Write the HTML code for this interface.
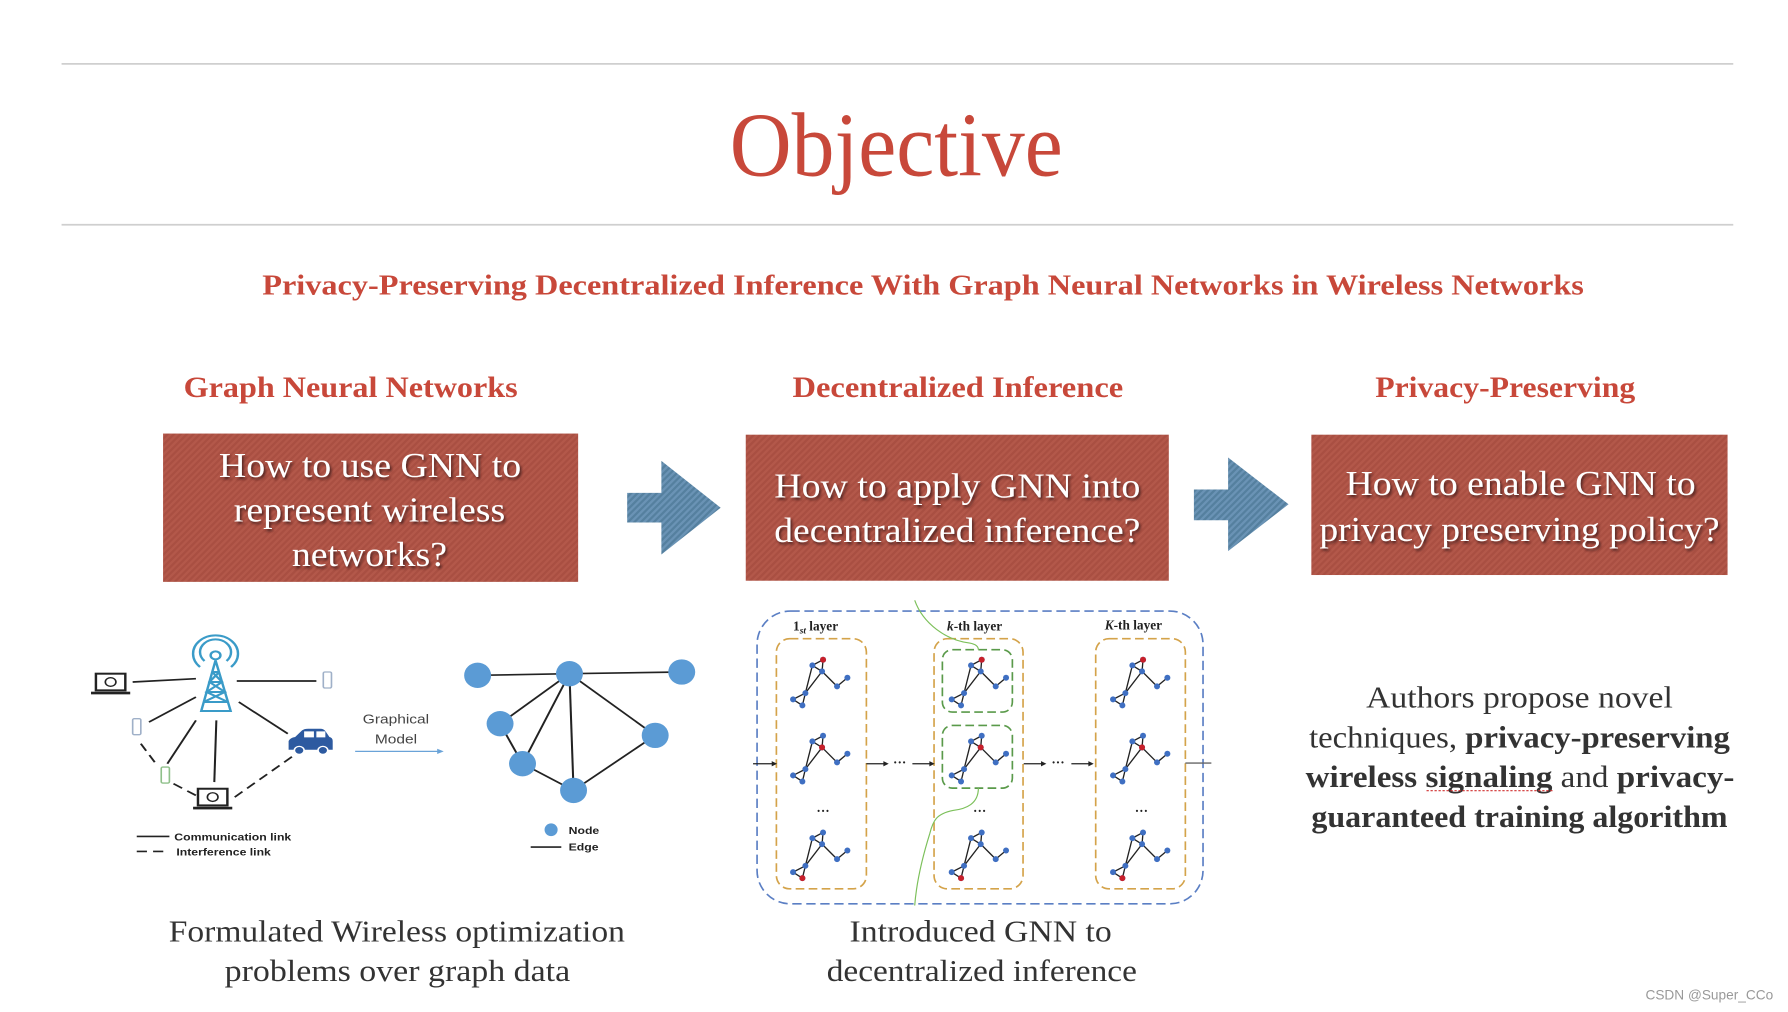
<!DOCTYPE html>
<html><head><meta charset="utf-8">
<style>
html,body{margin:0;padding:0;background:#fff;width:1788px;height:1012px;overflow:hidden}
svg{display:block}
</style></head>
<body>
<svg width="1788" height="1012" viewBox="0 0 1568 887" preserveAspectRatio="none" xmlns="http://www.w3.org/2000/svg">
<defs>
<pattern id="tex" width="4" height="4" patternUnits="userSpaceOnUse" patternTransform="rotate(45)">
<rect width="4" height="4" fill="#b3584a"/>
<rect width="2" height="4" fill="#a94f42"/>
</pattern>
<pattern id="btex" width="4" height="4" patternUnits="userSpaceOnUse" patternTransform="rotate(45)">
<rect width="4" height="4" fill="#6a93b5"/>
<rect width="2" height="4" fill="#55809f"/>
</pattern>
<filter id="sh" x="-10%" y="-10%" width="120%" height="130%">
<feDropShadow dx="1.5" dy="2" stdDeviation="1.2" flood-color="#3a1a14" flood-opacity="0.8"/>
</filter>
<g id="mg" stroke="#222" stroke-width="4" fill="#3f6fc2">
<line x1="178" y1="195" x2="210" y2="178"/>
<line x1="178" y1="195" x2="207" y2="213"/>
<line x1="210" y1="178" x2="207" y2="213"/>
<line x1="207" y1="213" x2="252" y2="258"/>
<line x1="252" y1="258" x2="283" y2="232"/>
<line x1="178" y1="195" x2="157" y2="278"/>
<line x1="207" y1="213" x2="157" y2="278"/>
<line x1="157" y1="278" x2="120" y2="297"/>
<line x1="157" y1="278" x2="148" y2="315"/>
<line x1="120" y1="297" x2="148" y2="315"/>
<g stroke="none">
<circle cx="178" cy="195" r="9"/><circle cx="210" cy="178" r="9"/><circle cx="207" cy="213" r="9"/>
<circle cx="252" cy="258" r="9"/><circle cx="283" cy="232" r="9"/><circle cx="157" cy="278" r="9"/>
<circle cx="120" cy="297" r="9"/><circle cx="148" cy="315" r="9"/>
</g>
</g>
</defs>

<line x1="54" y1="56" x2="1520" y2="56" stroke="#cfcfcf" stroke-width="1.5"/>
<line x1="54" y1="197" x2="1520" y2="197" stroke="#cfcfcf" stroke-width="1.5"/>

<g font-family="Liberation Serif, serif">
<text x="640" y="154" font-size="80" fill="#c8483a" textLength="292" lengthAdjust="spacingAndGlyphs">Objective</text>
<text x="230" y="258" font-size="25" font-weight="bold" fill="#c8483a" textLength="1159" lengthAdjust="spacingAndGlyphs">Privacy-Preserving Decentralized Inference With Graph Neural Networks in Wireless Networks</text>
<text x="161" y="348" font-size="26" font-weight="bold" fill="#c8483a" textLength="293" lengthAdjust="spacingAndGlyphs">Graph Neural Networks</text>
<text x="695" y="348" font-size="26" font-weight="bold" fill="#c8483a" textLength="290" lengthAdjust="spacingAndGlyphs">Decentralized Inference</text>
<text x="1206" y="348" font-size="26" font-weight="bold" fill="#c8483a" textLength="228" lengthAdjust="spacingAndGlyphs">Privacy-Preserving</text>

<rect x="143" y="380" width="364" height="130" fill="url(#tex)"/>
<rect x="654" y="381" width="371" height="128" fill="url(#tex)"/>
<rect x="1150" y="381" width="365" height="123" fill="url(#tex)"/>

<g fill="#fff" font-size="31" filter="url(#sh)">
<text x="192" y="418" textLength="265" lengthAdjust="spacingAndGlyphs">How to use GNN to</text>
<text x="205" y="457" textLength="238" lengthAdjust="spacingAndGlyphs">represent wireless</text>
<text x="256" y="496" textLength="136" lengthAdjust="spacingAndGlyphs">networks?</text>
<text x="679" y="436" textLength="321" lengthAdjust="spacingAndGlyphs">How to apply GNN into</text>
<text x="679" y="475" textLength="321" lengthAdjust="spacingAndGlyphs">decentralized inference?</text>
<text x="1180" y="434" textLength="307" lengthAdjust="spacingAndGlyphs">How to enable GNN to</text>
<text x="1157" y="474" textLength="351" lengthAdjust="spacingAndGlyphs">privacy preserving policy?</text>
</g>

<polygon points="550,432 580,432 580,404 632,445 580,486 580,458 550,458" fill="url(#btex)"/>
<polygon points="1047,429 1077,429 1077,401 1130,442 1077,483 1077,456 1047,456" fill="url(#btex)"/>

<g fill="#333" font-size="27">
<text x="148" y="825" textLength="400" lengthAdjust="spacingAndGlyphs">Formulated Wireless optimization</text>
<text x="197" y="860" textLength="303" lengthAdjust="spacingAndGlyphs">problems over graph data</text>
<text x="745" y="825" textLength="230" lengthAdjust="spacingAndGlyphs">Introduced GNN to</text>
<text x="725" y="860" textLength="272" lengthAdjust="spacingAndGlyphs">decentralized inference</text>
<text x="1198" y="620" textLength="269" lengthAdjust="spacingAndGlyphs">Authors propose novel</text>
<text x="1148" y="655" textLength="369" lengthAdjust="spacingAndGlyphs">techniques, <tspan font-weight="bold">privacy-preserving</tspan></text>
<text x="1145" y="690" textLength="376" lengthAdjust="spacingAndGlyphs"><tspan font-weight="bold">wireless signaling</tspan> and <tspan font-weight="bold">privacy-</tspan></text>
<text x="1150" y="725" font-weight="bold" textLength="365" lengthAdjust="spacingAndGlyphs">guaranteed training algorithm</text>
</g>
</g>
<line x1="1251" y1="693" x2="1363" y2="693" stroke="#d03030" stroke-width="1" stroke-dasharray="2 1.5"/>
<text x="1443" y="876" font-family="Liberation Sans, sans-serif" font-size="12" fill="#999" textLength="112" lengthAdjust="spacingAndGlyphs">CSDN @Super_CCo</text>

<!-- Left diagram -->
<g transform="translate(69.8,543.7) scale(0.358,0.2923)" font-family="Liberation Sans, sans-serif">
<g stroke="#222" stroke-width="5" fill="none">
<line x1="130" y1="185" x2="285" y2="175"/>
<line x1="385" y1="182" x2="580" y2="182"/>
<line x1="170" y1="305" x2="285" y2="230"/>
<line x1="215" y1="430" x2="285" y2="300"/>
<line x1="335" y1="300" x2="330" y2="485"/>
<line x1="390" y1="245" x2="510" y2="340"/>
<g stroke-dasharray="25 15">
<line x1="150" y1="370" x2="190" y2="435"/>
<line x1="230" y1="490" x2="285" y2="525"/>
<line x1="380" y1="530" x2="525" y2="405"/>
</g>
</g>
<g stroke="#3a9bc8" stroke-width="6" fill="none">
<circle cx="333" cy="105" r="12"/>
<path d="M306,122 A38,38 0 1 1 360,122"/>
<path d="M295,140 A55,55 0 1 1 371,140"/>
<path d="M333,120 L298,272 L370,272 Z"/>
<path d="M325,155 L342,155 M318,185 L349,185 M311,215 L356,215 M304,245 L363,245"/>
<path d="M325,155 L349,185 L311,215 L363,245 M342,155 L318,185 L356,215 L304,245"/>
</g>
<g stroke="#222" stroke-width="6" fill="#fff">
<rect x="40" y="160" width="72" height="50"/>
<rect x="290" y="505" width="72" height="50"/>
</g>
<rect x="28" y="214" width="96" height="8" fill="#222"/>
<rect x="278" y="559" width="96" height="8" fill="#222"/>
<circle cx="76" cy="185" r="13" fill="none" stroke="#222" stroke-width="4"/>
<circle cx="326" cy="530" r="13" fill="none" stroke="#222" stroke-width="4"/>
<rect x="597" y="155" width="20" height="48" rx="4" fill="none" stroke="#9fb0c8" stroke-width="4"/>
<rect x="130" y="295" width="20" height="48" rx="4" fill="none" stroke="#9fb0c8" stroke-width="4"/>
<rect x="200" y="440" width="20" height="48" rx="4" fill="none" stroke="#8fc08a" stroke-width="4"/>
<path d="M512,388 L512,362 Q516,352 528,350 L545,330 Q550,325 560,325 L590,325 Q598,325 602,332 L612,350 Q620,352 620,362 L620,388 Z" fill="#2d5aa0"/>
<rect x="550" y="333" width="24" height="18" fill="#fff"/>
<rect x="580" y="333" width="22" height="18" fill="#fff"/>
<circle cx="538" cy="390" r="12" fill="#2d5aa0" stroke="#fff" stroke-width="4"/>
<circle cx="596" cy="390" r="12" fill="#2d5aa0" stroke="#fff" stroke-width="4"/>
<text x="775" y="310" font-size="38" fill="#444" text-anchor="middle">Graphical</text>
<text x="775" y="370" font-size="38" fill="#444" text-anchor="middle">Model</text>
<line x1="675" y1="393" x2="880" y2="393" stroke="#6aa3d8" stroke-width="4"/>
<polygon points="892,393 876,385 876,401" fill="#6aa3d8"/>
<g stroke="#222" stroke-width="5">
<line x1="975" y1="165" x2="1200" y2="160"/>
<line x1="1200" y1="160" x2="1475" y2="155"/>
<line x1="1200" y1="160" x2="1030" y2="310"/>
<line x1="1200" y1="160" x2="1410" y2="345"/>
<line x1="1200" y1="160" x2="1085" y2="430"/>
<line x1="1200" y1="160" x2="1210" y2="510"/>
<line x1="1030" y1="310" x2="1085" y2="430"/>
<line x1="1085" y1="430" x2="1210" y2="510"/>
<line x1="1210" y1="510" x2="1410" y2="345"/>
</g>
<g fill="#5b9bd5">
<ellipse cx="975" cy="165" rx="33" ry="38"/><ellipse cx="1200" cy="160" rx="33" ry="38"/><ellipse cx="1475" cy="155" rx="33" ry="38"/>
<ellipse cx="1030" cy="310" rx="33" ry="38"/><ellipse cx="1410" cy="345" rx="33" ry="38"/><ellipse cx="1085" cy="430" rx="33" ry="38"/>
<ellipse cx="1210" cy="510" rx="33" ry="38"/>
<ellipse cx="1155" cy="628" rx="16" ry="19"/>
</g>
<g font-size="30" font-weight="bold" fill="#222">
<line x1="140" y1="648" x2="220" y2="648" stroke="#222" stroke-width="5"/>
<text x="232" y="660">Communication link</text>
<line x1="140" y1="693" x2="220" y2="693" stroke="#222" stroke-width="5" stroke-dasharray="25 15"/>
<text x="237" y="705">Interference link</text>
<text x="1198" y="640">Node</text>
<line x1="1105" y1="680" x2="1180" y2="680" stroke="#222" stroke-width="5"/>
<text x="1198" y="690">Edge</text>
</g>
</g>

<!-- Middle panel -->
<g transform="translate(660.4,526.2) scale(0.2923)">
<rect x="12" y="32" width="1338" height="878" rx="100" fill="none" stroke="#5b7fc4" stroke-width="5" stroke-dasharray="28 14"/>
<g fill="none" stroke="#d4a34a" stroke-width="5" stroke-dasharray="26 13">
<rect x="70" y="115" width="270" height="750" rx="40"/>
<rect x="543" y="115" width="267" height="750" rx="40"/>
<rect x="1028" y="115" width="269" height="750" rx="40"/>
</g>
<g fill="none" stroke="#5a9a4a" stroke-width="5" stroke-dasharray="26 13">
<rect x="568" y="148" width="210" height="187" rx="30"/>
<rect x="568" y="375" width="210" height="188" rx="30"/>
</g>
<path d="M485,0 C510,70 580,120 650,128 C672,132 676,140 676,148" fill="none" stroke="#7cc05a" stroke-width="3.5"/>
<path d="M676,563 C676,610 640,625 600,630 C550,640 540,660 530,700 C505,780 490,850 485,915" fill="none" stroke="#7cc05a" stroke-width="3.5"/>
<g font-family="Liberation Serif, serif" font-weight="bold" font-size="40" fill="#222">
<text x="120" y="90">1<tspan font-size="28" font-style="italic" dy="10">st</tspan><tspan dy="-10"> layer</tspan></text>
<text x="582" y="90"><tspan font-style="italic">k</tspan>-th layer</text>
<text x="1055" y="88"><tspan font-style="italic">K</tspan>-th layer</text>
<text x="210" y="645" text-anchor="middle">···</text>
<text x="680" y="645" text-anchor="middle">···</text>
<text x="1165" y="645" text-anchor="middle">···</text>
<text x="440" y="500" text-anchor="middle">···</text>
<text x="915" y="500" text-anchor="middle">···</text>
</g>
<g stroke="#222" stroke-width="4">
<line x1="0" y1="490" x2="60" y2="490"/>
<line x1="340" y1="490" x2="395" y2="490"/>
<line x1="478" y1="490" x2="533" y2="490"/>
<line x1="812" y1="490" x2="868" y2="490"/>
<line x1="955" y1="490" x2="1010" y2="490"/>
<line x1="1297" y1="488" x2="1375" y2="488" stroke="#666"/>
</g>
<g fill="#222">
<polygon points="72,490 56,482 56,498"/>
<polygon points="407,490 391,482 391,498"/>
<polygon points="545,490 529,482 529,498"/>
<polygon points="880,490 864,482 864,498"/>
<polygon points="1022,490 1006,482 1006,498"/>
</g>
<use href="#mg"/><use href="#mg" y="228"/><use href="#mg" y="518"/>
<use href="#mg" x="476"/><use href="#mg" x="476" y="228"/><use href="#mg" x="476" y="518"/>
<use href="#mg" x="960"/><use href="#mg" x="960" y="228"/><use href="#mg" x="960" y="518"/>
<g fill="#c8202a">
<circle cx="210" cy="178" r="9"/><circle cx="207" cy="441" r="9"/><circle cx="148" cy="833" r="9"/>
<circle cx="686" cy="178" r="9"/><circle cx="683" cy="441" r="9"/><circle cx="624" cy="833" r="9"/>
<circle cx="1170" cy="178" r="9"/><circle cx="1167" cy="441" r="9"/><circle cx="1108" cy="833" r="9"/>
</g>
</g>
</svg>
</body></html>
